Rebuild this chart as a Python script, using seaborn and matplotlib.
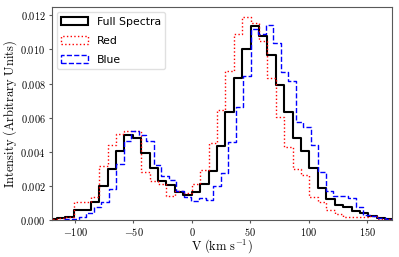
import matplotlib
matplotlib.use("Agg")
import matplotlib.pyplot as plt
import matplotlib.patches as mpatches
from matplotlib.ticker import FuncFormatter, MultipleLocator
import numpy as np
import pandas as pd
import seaborn as sns

# bin layout (km/s)
full_start, full_width = -122.6, 7.2
blue_start, blue_width = -109.74, 6.41

# normalised intensities per bin
full_vals = [0.00005, 0.0001, 0.00015, 0.00057, 0.0006, 0.00105, 0.00201, 0.00299,
             0.00405, 0.00498, 0.00479, 0.00393, 0.00305, 0.0023, 0.00205, 0.00166,
             0.00144, 0.00162, 0.00211, 0.00288, 0.00434, 0.00632, 0.00833, 0.01001,
             0.01136, 0.01077, 0.00968, 0.00792, 0.00632, 0.00479, 0.00404, 0.00305,
             0.00189, 0.00123, 0.00088, 0.00074, 0.00055, 0.00039, 0.00023, 0.00014,
             0.00008]
red_vals = [0.00005, 0.00013, 0.0002, 0.00104, 0.00104, 0.00137, 0.00317, 0.0044,
            0.00504, 0.00524, 0.00524, 0.00283, 0.0023, 0.00211, 0.00141, 0.00172,
            0.00157, 0.00211, 0.00295, 0.0045, 0.00645, 0.00876, 0.01089, 0.01189,
            0.01157, 0.0105, 0.00831, 0.00602, 0.0043, 0.00297, 0.00264, 0.00137,
            0.00104, 0.00059, 0.00033, 0.00016, 0.00016, 0.00016, 0.00025, 0.00008,
            0.00004]
blue_vals = [0.00003, 0.00006, 0.00019, 0.00039, 0.00074, 0.00104, 0.00182, 0.00327,
             0.00463, 0.00524, 0.00498, 0.00465, 0.00323, 0.00258, 0.00235, 0.0017,
             0.00133, 0.0011, 0.00127, 0.00117, 0.00199, 0.00274, 0.00456, 0.00665,
             0.00845, 0.01118, 0.0109, 0.01144, 0.0104, 0.0087, 0.00815, 0.00577,
             0.00547, 0.0044, 0.0028, 0.0017, 0.00143, 0.00143, 0.00127, 0.00074,
             0.00029, 0.00023, 0.00013, 0.00006]

series = [
    ("Full Spectra", full_vals, full_start, full_width, "k", "-", 1.5),
    ("Red", red_vals, full_start, full_width, "red", ":", 1.0),
    ("Blue", blue_vals, blue_start, blue_width, "blue", "--", 1.0),
]

plt.rcParams["mathtext.fontset"] = "cm"
plt.rcParams["font.size"] = 7.6

fig, ax = plt.subplots(figsize=(3.99, 2.57), dpi=100)
fig.subplots_adjust(left=0.1296, right=0.9817, top=0.9716, bottom=0.144)

handles = []
for name, vals, start, width, col, ls, lw in series:
    edges = start + width * np.arange(len(vals) + 1)
    df = pd.DataFrame({"v": (edges[:-1] + edges[1:]) / 2, "w": vals})
    sns.histplot(data=df, x="v", weights="w", bins=list(edges), stat="count",
                 element="step", fill=False, color=col, linestyle=ls,
                 linewidth=lw, ax=ax)
    handles.append(mpatches.Patch(facecolor="none", edgecolor=col,
                                  linestyle=ls, linewidth=lw, label=name))

ax.set_xlim(-120, 171)
ax.set_ylim(0, 0.01247)
ax.xaxis.set_major_locator(MultipleLocator(50))
ax.yaxis.set_major_locator(MultipleLocator(0.002))
ax.xaxis.set_major_formatter(FuncFormatter(lambda v, p: f"${v:g}$"))
ax.yaxis.set_major_formatter(FuncFormatter(lambda v, p: f"${v:.3f}$"))
ax.tick_params(labelsize=7.4, length=2.5, width=0.8, pad=2, color="0.35")
for s in ax.spines.values():
    s.set_color("0.35")
    s.set_linewidth(0.8)

ax.set_xlabel(r"$\mathrm{V\ (km\ s^{-1})}$", fontsize=9, labelpad=-1)
ax.set_ylabel(r"$\mathrm{Intensity\ (Arbitrary\ Units)}$", fontsize=9, labelpad=1)

ax.legend(handles=handles, loc="upper left", fontsize=7.8, handlelength=2.5,
          handleheight=0.8, frameon=True, edgecolor="0.85", borderaxespad=0.45,
          labelspacing=0.85)

fig.savefig("out.png", dpi=100)
